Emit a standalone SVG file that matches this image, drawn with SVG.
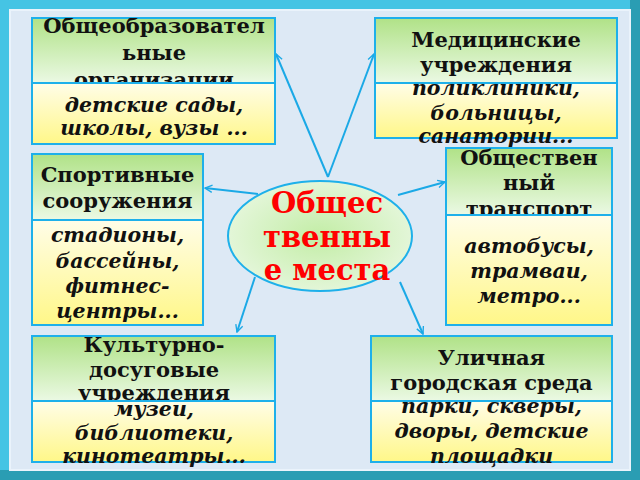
<svg xmlns="http://www.w3.org/2000/svg" width="640" height="480" viewBox="0 0 640 480">
<defs>
<linearGradient id="hdr" x1="0" y1="0" x2="0" y2="1">
<stop offset="0" stop-color="#b0e287"/>
<stop offset="1" stop-color="#ebf9e4"/>
</linearGradient>
<linearGradient id="bdy" x1="0" y1="0" x2="0" y2="1">
<stop offset="0" stop-color="#fffde8"/>
<stop offset="1" stop-color="#fff788"/>
</linearGradient>
<radialGradient id="ell" cx="0.5" cy="0.5" r="0.5">
<stop offset="0" stop-color="#c3eda6"/>
<stop offset="1" stop-color="#e3f6d8"/>
</radialGradient>
<linearGradient id="frameTL" x1="0" y1="0" x2="1" y2="1">
<stop offset="0" stop-color="#45c6e6"/>
<stop offset="1" stop-color="#2a9db4"/>
</linearGradient>
<marker id="arr" viewBox="0 0 10 10" refX="9" refY="5" markerWidth="9" markerHeight="9" markerUnits="userSpaceOnUse" orient="auto">
<path d="M1,1 L9,5 L1,9" fill="none" stroke="#1ba9e6" stroke-width="1.5"/>
</marker>
<clipPath id="c1h"><rect x="32" y="18" width="243" height="65"/></clipPath>
<clipPath id="c2b"><rect x="375" y="83" width="242" height="120"/></clipPath>
<clipPath id="c4h"><rect x="446" y="148" width="166" height="67"/></clipPath>
<clipPath id="c5b"><rect x="32" y="401" width="243" height="120"/></clipPath>
<clipPath id="c6b"><rect x="371" y="401" width="241" height="120"/></clipPath>
<style>
.hd{fill:url(#hdr);stroke:#1eb0ea;stroke-width:2}
.bd{fill:url(#bdy);stroke:#1eb0ea;stroke-width:2}
.ht{font-family:"DejaVu Serif","Liberation Serif",serif;font-weight:bold;font-size:21px;fill:#111;text-anchor:middle}
.bt{font-family:"DejaVu Serif","Liberation Serif",serif;font-weight:bold;font-style:italic;font-size:20.5px;fill:#111;text-anchor:middle}
.ct{font-family:"DejaVu Serif","Liberation Serif",serif;font-weight:bold;font-size:29px;fill:#ff0000;text-anchor:middle}
.cn{fill:none;stroke:#1ba9e6;stroke-width:2;marker-end:url(#arr)}
</style>
</defs>
<rect x="0" y="0" width="640" height="480" fill="url(#frameTL)"/>
<rect x="0" y="0" width="640" height="10" fill="#45c4e4"/>
<rect x="0" y="0" width="10" height="480" fill="#45c4e4"/>
<rect x="0" y="470" width="640" height="10" fill="#2a9db3"/>
<rect x="630" y="0" width="10" height="480" fill="#2a9db3"/>
<rect x="10" y="10" width="620" height="460" fill="#dde9f5" stroke="#eaf3fb" stroke-width="2"/>

<g id="connectors">
<line class="cn" x1="328" y1="177" x2="276" y2="54"/>
<line class="cn" x1="328" y1="177" x2="374" y2="54"/>
<line class="cn" x1="258" y1="194" x2="205" y2="188"/>
<line class="cn" x1="398" y1="195" x2="445" y2="182"/>
<line class="cn" x1="255" y1="277" x2="237" y2="332"/>
<line class="cn" x1="400" y1="282" x2="423" y2="334"/>
</g>

<g id="node-center">
<ellipse cx="320" cy="236" rx="92" ry="55" fill="url(#ell)" stroke="#1eb0ea" stroke-width="2"/>
<text class="ct" x="327" y="213">Общес</text>
<text class="ct" x="327" y="247">твенны</text>
<text class="ct" x="327" y="280">е места</text>
</g>

<g id="node-edu">
<rect class="hd" x="32" y="18" width="243" height="65"/>
<g clip-path="url(#c1h)">
<text class="ht" x="154" y="33">Общеобразовател</text>
<text class="ht" x="154" y="60">ьные</text>
<text class="ht" x="154" y="87">организации</text>
</g>
<rect class="bd" x="32" y="83" width="243" height="61"/>
<text class="bt" x="154" y="112">детские сады,</text>
<text class="bt" x="154" y="135">школы, вузы ...</text>
</g>

<g id="node-med">
<rect class="hd" x="375" y="18" width="242" height="65"/>
<text class="ht" x="496" y="47">Медицинские</text>
<text class="ht" x="496" y="72">учреждения</text>
<rect class="bd" x="375" y="83" width="242" height="55"/>
<g clip-path="url(#c2b)">
<text class="bt" x="496" y="95">поликлиники,</text>
<text class="bt" x="496" y="120">больницы,</text>
<text class="bt" x="496" y="143">санатории...</text>
</g>
</g>

<g id="node-sport">
<rect class="hd" x="32" y="154" width="171" height="66"/>
<text class="ht" x="117.5" y="182">Спортивные</text>
<text class="ht" x="117.5" y="208">сооружения</text>
<rect class="bd" x="32" y="220" width="171" height="105"/>
<text class="bt" x="117.5" y="242">стадионы,</text>
<text class="bt" x="117.5" y="268">бассейны,</text>
<text class="bt" x="117.5" y="293">фитнес-</text>
<text class="bt" x="117.5" y="318">центры...</text>
</g>

<g id="node-transport">
<rect class="hd" x="446" y="148" width="166" height="67"/>
<g clip-path="url(#c4h)">
<text class="ht" x="529" y="165">Обществен</text>
<text class="ht" x="529" y="190">ный</text>
<text class="ht" x="529" y="216">транспорт</text>
</g>
<rect class="bd" x="446" y="215" width="166" height="110"/>
<text class="bt" x="529" y="253">автобусы,</text>
<text class="bt" x="529" y="278">трамваи,</text>
<text class="bt" x="529" y="303">метро...</text>
</g>

<g id="node-culture">
<rect class="hd" x="32" y="336" width="243" height="65"/>
<text class="ht" x="154" y="352">Культурно-</text>
<text class="ht" x="154" y="377">досуговые</text>
<text class="ht" x="154" y="400">учреждения</text>
<rect class="bd" x="32" y="401" width="243" height="61"/>
<g clip-path="url(#c5b)">
<text class="bt" x="154" y="416">музеи,</text>
<text class="bt" x="154" y="440">библиотеки,</text>
<text class="bt" x="154" y="463">кинотеатры...</text>
</g>
</g>

<g id="node-street">
<rect class="hd" x="371" y="336" width="241" height="65"/>
<text class="ht" x="491.5" y="365">Уличная</text>
<text class="ht" x="491.5" y="390">городская среда</text>
<rect class="bd" x="371" y="401" width="241" height="61"/>
<g clip-path="url(#c6b)">
<text class="bt" x="491.5" y="413">парки, скверы,</text>
<text class="bt" x="491.5" y="438">дворы, детские</text>
<text class="bt" x="491.5" y="463">площадки</text>
</g>
</g>
</svg>
